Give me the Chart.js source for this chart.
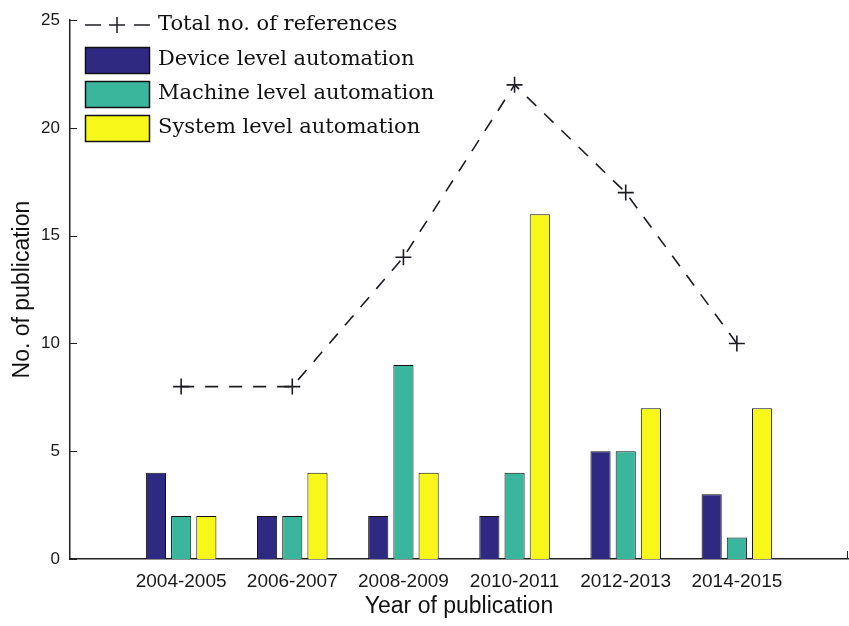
<!DOCTYPE html>
<html>
<head>
<meta charset="utf-8">
<script src="https://cdn.jsdelivr.net/npm/chart.js@4/dist/chart.umd.min.js"></script>
<style>
html,body{margin:0;padding:0;background:#fff;}
#wrap{width:849px;height:626px;position:relative;}
</style>
</head>
<body>
<div id="wrap"><canvas id="c" width="849" height="626"></canvas></div>
<script>
const categories = ['2004-2005','2006-2007','2008-2009','2010-2011','2012-2013','2014-2015'];
const deviceLevel = [4, 2, 2, 2, 5, 3];
const machineLevel = [2, 2, 9, 4, 5, 1];
const systemLevel = [2, 4, 4, 16, 7, 7];
const totalRefs = [8, 8, 14, 22, 17, 10];
const yTicks = [0, 5, 10, 15, 20, 25];

const seriesNames = ['Total no. of references','Device level automation','Machine level automation','System level automation'];
const colors = {device:'#2e2a82', machine:'#3ab69d', system:'#f7f71a', line:'#1c1c24'};

// pad ends so categories sit at 1..6 of a 0..7 axis
const labels = [''].concat(categories, ['']);
const pad = a => [null].concat(a, [null]);

const insideTicks = {
  id:'insideTicks',
  beforeDatasetsDraw(chart){
    const ctx = chart.ctx, ys = chart.scales.y, xs = chart.scales.x;
    ctx.save();
    ctx.strokeStyle = '#222'; ctx.lineWidth = 1;
    yTicks.forEach(v=>{
      const py = Math.round(ys.getPixelForValue(v))+0.5;
      ctx.beginPath(); ctx.moveTo(xs.left, py); ctx.lineTo(xs.left+7, py); ctx.stroke();
    });
    for(let i=0;i<labels.length;i++){
      const px = Math.round(xs.getPixelForValue(i))-0.5;
      ctx.beginPath(); ctx.moveTo(px, ys.bottom); ctx.lineTo(px, ys.bottom-8); ctx.stroke();
    }
    ctx.restore();
  }
};

const customLegend = {
  id:'customLegend',
  afterDraw(chart){
    const ctx = chart.ctx;
    const ds = chart.data.datasets;
    const x0 = 85, x1 = 150, tx = 158;
    const rows = [25, 60, 94, 128];
    ctx.save();
    ctx.font = '21px "DejaVu Serif"';
    ctx.textBaseline = 'middle';
    ctx.fillStyle = '#111';
    const line = ds.find(d=>d.type==='line');
    ctx.strokeStyle = line.borderColor; ctx.lineWidth = 1.5;
    ctx.beginPath();
    ctx.moveTo(x0, rows[0]); ctx.lineTo(x0+16, rows[0]);
    ctx.moveTo(x1-16, rows[0]); ctx.lineTo(x1, rows[0]);
    ctx.moveTo(117-8, rows[0]); ctx.lineTo(117+8, rows[0]);
    ctx.moveTo(117, rows[0]-8); ctx.lineTo(117, rows[0]+8);
    ctx.stroke();
    ctx.fillText(line.label, tx, rows[0]);
    const bars = ds.filter(d=>d.type!=='line');
    bars.forEach((b,i)=>{
      const cy = rows[i+1];
      ctx.fillStyle = b.backgroundColor;
      ctx.fillRect(x0, cy-13, x1-x0, 26);
      ctx.strokeStyle = '#111'; ctx.lineWidth = 1.5;
      ctx.strokeRect(x0+0.5, cy-13+0.5, x1-x0-1, 26);
      ctx.fillStyle = '#111';
      ctx.fillText(b.label, tx, cy);
    });
    ctx.restore();
  }
};

new Chart(document.getElementById('c'), {
  data:{
    labels: labels,
    datasets:[
      {type:'line', label:seriesNames[0], data:pad(totalRefs), borderColor:colors.line, backgroundColor:colors.line,
       borderWidth:1.6, borderDash:[13,11], pointStyle:'cross', pointRadius:8, pointBorderWidth:1.6,
       pointBorderColor:colors.line, fill:false, tension:0, order:0},
      {type:'bar', label:seriesNames[1], data:pad(deviceLevel), backgroundColor:colors.device, borderColor:'#111', borderWidth:1, order:1},
      {type:'bar', label:seriesNames[2], data:pad(machineLevel), backgroundColor:colors.machine, borderColor:'#111', borderWidth:1, order:1},
      {type:'bar', label:seriesNames[3], data:pad(systemLevel), backgroundColor:colors.system, borderColor:'#111', borderWidth:1, order:1}
    ]
  },
  options:{
    responsive:false, animation:false, devicePixelRatio:1,
    layout:{autoPadding:false, padding:{top:20, right:1, left:0, bottom:0}},
    datasets:{bar:{categoryPercentage:0.68, barPercentage:0.8}},
    plugins:{legend:{display:false}, tooltip:{enabled:false}},
    scales:{
      x:{
        type:'category', offset:false,
        grid:{display:false, drawTicks:false},
        border:{display:true, color:'#222', width:1.5},
        ticks:{autoSkip:false, maxRotation:0, padding:11, color:'#1a1a1a', font:{family:'"Liberation Sans", Arial', size:19}},
        title:{display:true, text:'Year of publication', color:'#111', padding:{top:2,bottom:6}, font:{family:'"Liberation Sans", Arial', size:23}},
        afterFit(s){ s.height = 67; s.paddingRight = 0; s.paddingLeft = 0; }
      },
      y:{
        min:0, max:25,
        afterBuildTicks(s){ s.ticks = yTicks.map(v=>({value:v})); },
        grid:{display:false, drawTicks:false},
        border:{display:true, color:'#222', width:1.5},
        ticks:{padding:10, color:'#1a1a1a', font:{family:'"Liberation Sans", Arial', size:17}},
        title:{display:true, text:'No. of publication', color:'#111', padding:{top:9,bottom:4}, font:{family:'"Liberation Sans", Arial', size:23}},
        afterFit(s){ s.width = 70; }
      }
    }
  },
  plugins:[insideTicks, customLegend]
});
</script>
</body>
</html>
